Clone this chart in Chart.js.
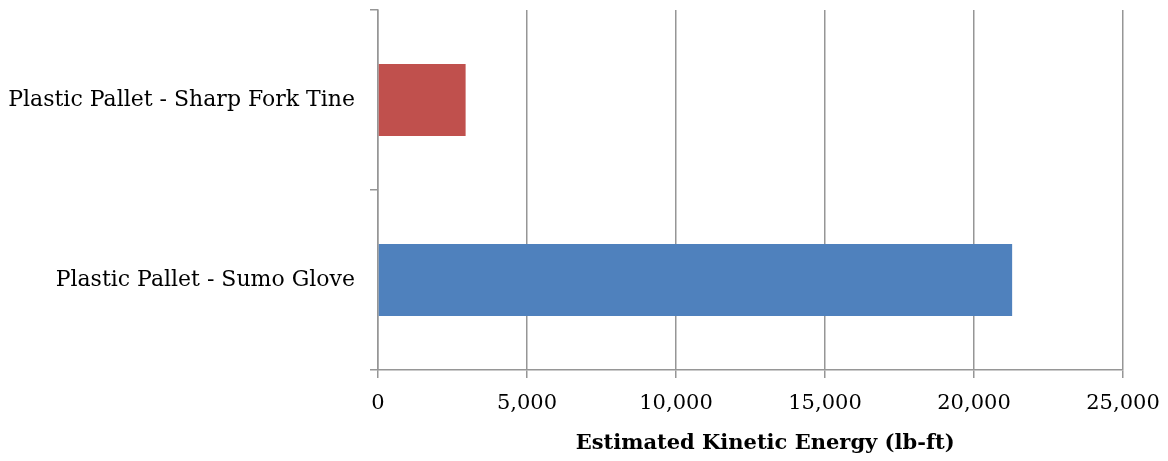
<!DOCTYPE html>
<html>
<head>
<meta charset="utf-8">
<script src="https://cdn.jsdelivr.net/npm/chart.js@4.4.1/dist/chart.umd.min.js"></script>
<style>
  html, body { margin: 0; padding: 0; background: #ffffff; }
  #wrap { width: 1168px; height: 461px; }
</style>
</head>
<body>
<div id="wrap"><canvas id="chart" width="1168" height="461"></canvas></div>
<script>
// Kinetic energy estimates per test configuration
const categories = ['Plastic Pallet - Sharp Fork Tine', 'Plastic Pallet - Sumo Glove'];
const energyValues = [2940, 21280];
const barColors = ['#C0504D', '#4F81BD'];
const axisTitle = 'Estimated Kinetic Energy (lb-ft)';
const xMin = 0;
const xMax = 25000;
const xStep = 5000;

const serif = '"DejaVu Serif", "Liberation Serif", serif';
const gridColor = '#969696';

new Chart(document.getElementById('chart'), {
  type: 'bar',
  data: {
    labels: categories,
    datasets: [{
      data: energyValues,
      backgroundColor: barColors,
      borderWidth: 0,
      barPercentage: 0.4,
      categoryPercentage: 1.0
    }]
  },
  options: {
    indexAxis: 'y',
    responsive: false,
    animation: false,
    devicePixelRatio: 1,
    layout: { padding: { top: 10, right: 45, left: 0, bottom: 0 } },
    plugins: {
      legend: { display: false },
      tooltip: { enabled: false }
    },
    scales: {
      x: {
        min: xMin,
        max: xMax,
        ticks: {
          stepSize: xStep,
          color: '#000000',
          padding: 13,
          font: { family: serif, size: 21 },
          callback: (v) => v.toLocaleString('en-US')
        },
        grid: {
          color: gridColor,
          lineWidth: 1.5,
          tickLength: 8,
          drawTicks: true
        },
        border: { color: gridColor, width: 1.5 },
        title: {
          display: true,
          // leading spaces nudge the title a little right of the axis centre
          text: '    ' + axisTitle,
          color: '#000000',
          font: { family: serif, size: 21, weight: 'bold' },
          padding: { top: 6, bottom: 5 }
        },
        afterFit: (scale) => {
          scale.height = 91;
          scale.paddingLeft = 0;
          scale.paddingRight = 0;
        }
      },
      y: {
        ticks: {
          color: '#000000',
          padding: 15,
          font: { family: serif, size: 22 }
        },
        grid: {
          drawOnChartArea: false,
          color: gridColor,
          lineWidth: 1.5,
          tickLength: 8,
          offset: true
        },
        border: { color: gridColor, width: 1.5 },
        afterFit: (scale) => {
          scale.width = 378;
          scale.paddingTop = 0;
          scale.paddingBottom = 0;
        }
      }
    }
  }
});
</script>
</body>
</html>
